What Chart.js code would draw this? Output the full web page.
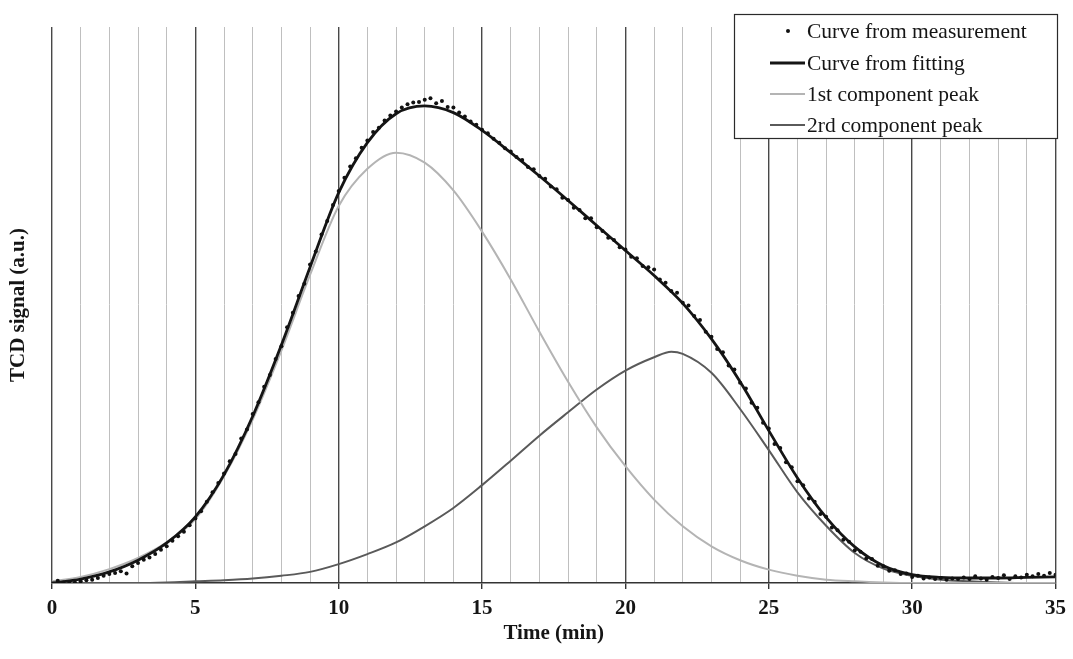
<!DOCTYPE html>
<html>
<head>
<meta charset="utf-8">
<script src="https://cdn.jsdelivr.net/npm/chart.js@4.4.1/dist/chart.umd.min.js"></script>
<style>
  html, body { margin: 0; padding: 0; background: #fff; }
</style>
</head>
<body>
<canvas id="c" width="1073" height="659"></canvas>
<script>
// ---- data ----
const xTickLabels = [0, 5, 10, 15, 20, 25, 30, 35];
const legendLabels = ['Curve from measurement', 'Curve from fitting', '1st component peak', '2rd component peak'];

const measTime = [
  0.2,0.4,0.6,0.8,1.0,1.2,1.4,1.6,1.8,2.0,
  2.2,2.4,2.6,2.8,3.0,3.2,3.4,3.6,3.8,4.0,
  4.2,4.4,4.6,4.8,5.0,5.2,5.4,5.6,5.8,6.0,
  6.2,6.4,6.6,6.8,7.0,7.2,7.4,7.6,7.8,8.0,
  8.2,8.4,8.6,8.8,9.0,9.2,9.4,9.6,9.8,10.0,
  10.2,10.4,10.6,10.8,11.0,11.2,11.4,11.6,11.8,12.0,
  12.2,12.4,12.6,12.8,13.0,13.2,13.4,13.6,13.8,14.0,
  14.2,14.4,14.6,14.8,15.0,15.2,15.4,15.6,15.8,16.0,
  16.2,16.4,16.6,16.8,17.0,17.2,17.4,17.6,17.8,18.0,
  18.2,18.4,18.6,18.8,19.0,19.2,19.4,19.6,19.8,20.0,
  20.2,20.4,20.6,20.8,21.0,21.2,21.4,21.6,21.8,22.0,
  22.2,22.4,22.6,22.8,23.0,23.2,23.4,23.6,23.8,24.0,
  24.2,24.4,24.6,24.8,25.0,25.2,25.4,25.6,25.8,26.0,
  26.2,26.4,26.6,26.8,27.0,27.2,27.4,27.6,27.8,28.0,
  28.2,28.4,28.6,28.8,29.0,29.2,29.4,29.6,29.8,30.0,
  30.2,30.4,30.6,30.8,31.0,31.2,31.4,31.6,31.8,32.0,
  32.2,32.4,32.6,32.8,33.0,33.2,33.4,33.6,33.8,34.0,
  34.2,34.4,34.6,34.8,35.0
];
const measSignal = [
  0.4,0.1,0.0,0.1,0.3,0.5,0.6,0.9,1.3,1.6,
  1.8,2.1,1.7,3.0,3.6,4.2,4.6,5.2,6.0,6.6,
  7.6,8.4,9.2,10.4,11.6,12.9,14.6,16.3,18.0,19.7,
  21.9,23.2,26.0,27.6,30.4,32.5,35.3,37.4,40.3,42.6,
  46.0,48.6,51.6,53.8,57.3,59.6,62.7,65.1,68.0,70.5,
  72.9,74.9,76.4,78.3,79.6,81.1,81.9,83.2,84.1,84.8,
  85.5,86.1,86.4,86.5,86.9,87.2,86.3,86.7,85.6,85.5,
  84.6,83.9,83.0,82.4,81.5,80.9,79.9,79.2,78.2,77.6,
  76.6,76.1,74.8,74.4,73.2,72.7,71.3,70.8,69.3,68.9,
  67.5,67.1,65.6,65.6,64.0,63.3,62.1,61.7,60.4,60.0,
  58.7,58.4,57.0,56.8,56.4,54.6,54.0,52.5,52.2,50.4,
  49.9,48.0,47.3,45.2,44.3,42.1,41.5,39.1,38.4,36.0,
  35.0,32.4,31.5,28.8,27.8,25.0,24.3,21.7,20.8,18.3,
  17.6,15.2,14.6,12.4,11.9,10.0,9.5,7.8,7.4,5.9,
  5.6,4.4,4.3,3.1,3.0,2.2,2.3,1.6,1.7,1.1,
  1.3,0.8,1.0,0.7,0.9,0.6,0.8,0.7,1.0,0.7,
  1.2,0.8,0.6,1.1,0.9,1.4,0.7,1.2,1.0,1.5,
  1.2,1.6,1.3,1.8,1.5
];

const fitTime = [0,1,2,3,4,5,6,7,8,9,10,11,12,13,14,15,16,17,18,19,20,21,22,23,24,25,26,27,28,29,30,31,32,33,34,35];
const fitSignal = [0,0.7,2.0,4.1,7.2,11.9,19.5,30.0,42.8,56.8,70.2,79.2,84.4,85.8,84.6,81.4,77.4,73.2,68.8,64.3,59.8,55.3,50.3,43.9,36.2,27.4,18.9,11.8,6.5,3.1,1.5,1.0,0.9,0.9,1.0,1.1];
const peak1Signal = [0.3,1.1,2.5,4.5,7.3,11.5,19.2,29.4,41.8,55.4,67.8,74.5,77.4,75.6,70.6,63.2,54.6,45.2,36.2,28.0,21.0,15.0,10.2,6.6,4.1,2.4,1.3,0.6,0.3,0.1,0,0,0,0,0,0];
const peak2Time = [0,1,2,3,4,5,6,7,8,9,10,11,12,13,14,15,16,17,18,19,20,21,21.6,22,23,24,25,26,27,28,29,30,31,32,33,34,35];
const peak2Signal = [0,0,0,0,0.1,0.3,0.5,0.8,1.3,2.0,3.4,5.2,7.3,10.2,13.5,17.6,22.0,26.5,30.7,34.8,38.2,40.6,41.6,41.2,37.8,31.3,23.9,16.3,10.3,5.4,2.6,1.3,0.6,0.3,0.1,0,0];

const pts = (xs, ys) => xs.map((x, i) => ({ x: x, y: ys[i] }));
const serifFam = '"Liberation Serif", "Times New Roman", "DejaVu Serif", serif';

const legendStyles = [
  { kind: 'dot', color: '#111' },
  { kind: 'line', color: '#151515', width: 3 },
  { kind: 'line', color: '#b4b4b4', width: 2 },
  { kind: 'line', color: '#5a5a5a', width: 2 }
];

const boxLegend = {
  id: 'boxLegend',
  afterDatasetsDraw(chart) {
    const ctx = chart.ctx;
    const bx = 734, by = 14, bw = 323, bh = 124;
    ctx.save();
    ctx.fillStyle = '#fff';
    ctx.fillRect(bx, by, bw, bh);
    ctx.strokeStyle = '#2a2a2a';
    ctx.lineWidth = 1.2;
    ctx.strokeRect(bx + 0.5, by + 0.5, bw, bh);
    const rowY = [31, 63, 94, 125];
    ctx.font = '21.5px ' + serifFam;
    ctx.textBaseline = 'middle';
    ctx.textAlign = 'left';
    legendLabels.forEach((lab, i) => {
      const st = legendStyles[i];
      const y = rowY[i];
      if (st.kind === 'dot') {
        ctx.fillStyle = st.color;
        ctx.beginPath(); ctx.arc(788, y, 2, 0, Math.PI * 2); ctx.fill();
      } else {
        ctx.strokeStyle = st.color; ctx.lineWidth = st.width;
        ctx.beginPath(); ctx.moveTo(770, y); ctx.lineTo(805, y); ctx.stroke();
      }
      ctx.fillStyle = '#151515';
      ctx.fillText(lab, 807, y + 1);
    });
    ctx.restore();
  }
};

new Chart(document.getElementById('c'), {
  type: 'line',
  data: {
    datasets: [
      { label: legendLabels[0], data: pts(measTime, measSignal), showLine: false,
        pointRadius: 2, pointBackgroundColor: '#111', pointBorderWidth: 0, pointHoverRadius: 0 },
      { label: legendLabels[1], data: pts(fitTime, fitSignal), borderColor: '#151515',
        borderWidth: 2.8, pointRadius: 0, cubicInterpolationMode: 'monotone', fill: false },
      { label: legendLabels[2], data: pts(fitTime, peak1Signal), borderColor: '#b4b4b4',
        borderWidth: 2, pointRadius: 0, cubicInterpolationMode: 'monotone', fill: false },
      { label: legendLabels[3], data: pts(peak2Time, peak2Signal), borderColor: '#5a5a5a',
        borderWidth: 2, pointRadius: 0, cubicInterpolationMode: 'monotone', fill: false }
    ]
  },
  plugins: [boxLegend],
  options: {
    responsive: false,
    animation: false,
    devicePixelRatio: 1,
    layout: { padding: { top: 27, right: 12, left: 0, bottom: 0 } },
    plugins: { legend: { display: false }, tooltip: { enabled: false } },
    scales: {
      x: {
        type: 'linear', min: 0, max: 35,
        afterFit: (s) => { s.height = 76; },
        ticks: {
          stepSize: 1, autoSkip: false, maxRotation: 0, padding: 7, color: '#151515',
          font: { family: serifFam, size: 21, weight: 'bold' },
          callback: (v) => (xTickLabels.includes(v) ? String(v) : '')
        },
        grid: {
          drawOnChartArea: true, tickLength: 6,
          color: (c) => (c.tick && c.tick.value % 5 === 0 ? '#484848' : '#bfbfbf'),
          lineWidth: (c) => (c.tick && c.tick.value % 5 === 0 ? 1.4 : 1),
          tickColor: (c) => (c.tick && c.tick.value % 5 === 0 ? '#333' : 'rgba(0,0,0,0)')
        },
        border: { display: true, color: '#333', width: 1.6 },
        title: { display: true, text: 'Time (min)', color: '#151515',
                 font: { family: serifFam, size: 21, weight: 'bold' }, padding: { top: 0, bottom: 13 } }
      },
      y: {
        min: 0, max: 100,
        afterFit: (s) => { s.width = 52; },
        ticks: { display: false },
        grid: { display: false },
        border: { display: false },
        title: { display: true, text: 'TCD signal (a.u.)', color: '#151515',
                 font: { family: serifFam, size: 21, weight: 'bold' }, padding: { top: 6, bottom: 0 } }
      }
    }
  }
});
</script>
</body>
</html>
